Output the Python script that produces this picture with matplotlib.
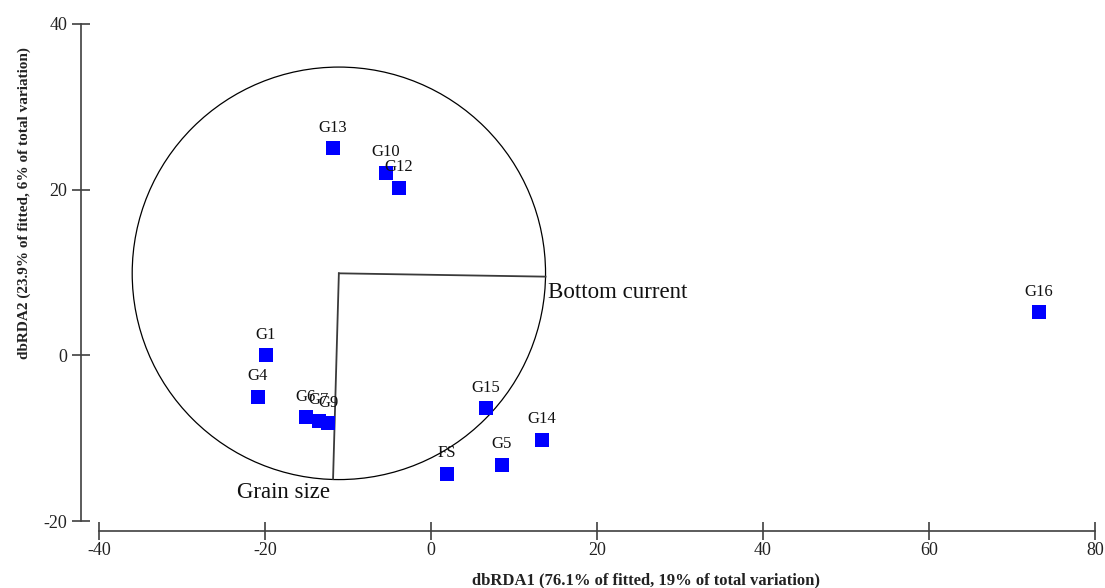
import matplotlib
matplotlib.use("Agg")
import matplotlib.pyplot as plt
from matplotlib.patches import Circle

# ---- data ----
sites = ["G1", "G4", "G6", "G7", "G9", "G10", "G12", "G13",
         "G15", "G14", "G5", "FS", "G16"]
dbrda1 = [-19.9, -20.9, -15.1, -13.5, -12.4, -5.4, -3.9, -11.8,
          6.6, 13.4, 8.5, 1.9, 73.2]
dbrda2 = [0.0, -5.0, -7.5, -7.9, -8.2, 22.0, 20.2, 25.0,
          -6.4, -10.2, -13.2, -14.3, 5.2]

vec_names = ["Bottom current", "Grain size"]
vec_x = [24.9, -0.7]
vec_y = [-0.4, -24.8]
origin = (-11.1, 9.9)
circle_radius = 24.9

xticks = [-40, -20, 0, 20, 40, 60, 80]
yticks = [-20, 0, 20, 40]
xlabel = "dbRDA1 (76.1% of fitted, 19% of total variation)"
ylabel = "dbRDA2 (23.9% of fitted, 6% of total variation)"

# ---- figure ----
W, H = 1105, 588
fig = plt.figure(figsize=(W / 100, H / 100), dpi=100)
ax = fig.add_axes([99 / W, 1 - 521 / H, (1095 - 99) / W, (521 - 24) / H])
ax.set_xlim(-40, 80)
ax.set_ylim(-20, 40)

serif = ["Liberation Serif", "DejaVu Serif"]
spine_col = "#404040"

# circle and vectors
ax.add_patch(Circle(origin, circle_radius, fill=False, ec="black", lw=0.9,
                    clip_on=False))
for name, dx, dy in zip(vec_names, vec_x, vec_y):
    ax.plot([origin[0], origin[0] + dx], [origin[1], origin[1] + dy],
            color="#3a3a3a", lw=1.3, clip_on=False)

ax.annotate(vec_names[0], (origin[0] + vec_x[0], origin[1] + vec_y[0]),
            xytext=(1.5, -15.5), textcoords="offset points",
            ha="left", va="baseline", fontsize=16.5, family=serif,
            color="#111111")
ax.annotate(vec_names[1], (origin[0] + vec_x[1], origin[1] + vec_y[1]),
            xytext=(-2, -14), textcoords="offset points",
            ha="right", va="baseline", fontsize=16.5, family=serif,
            color="#111111")

# points
ax.plot(dbrda1, dbrda2, linestyle="none", marker="s", markersize=10.5,
        color="#0000ff", markeredgewidth=0, clip_on=False, zorder=3)
for s, x, y in zip(sites, dbrda1, dbrda2):
    ax.annotate(s, (x, y), xytext=(0, 12), textcoords="offset points",
                ha="center", va="baseline", fontsize=12, family=serif,
                color="#111111", zorder=4)

# axes styling
for side in ["top", "right"]:
    ax.spines[side].set_visible(False)
ax.spines["left"].set_position(("outward", 13))
ax.spines["bottom"].set_position(("outward", 7.2))
ax.spines["left"].set_bounds(-20, 40)
ax.spines["bottom"].set_bounds(-40, 80)
for side in ["left", "bottom"]:
    ax.spines[side].set_color(spine_col)
    ax.spines[side].set_linewidth(1.2)

ax.set_xticks(xticks)
ax.set_yticks(yticks)
ax.set_xticklabels([str(v) for v in xticks])
ax.set_yticklabels([str(v) for v in yticks])
ax.tick_params(axis="x", direction="inout", length=12.5, width=1.2,
               color=spine_col, pad=1.5, labelsize=13, labelcolor="#222222")
ax.tick_params(axis="y", direction="inout", length=13.5, width=1.2,
               color=spine_col, pad=3, labelsize=13, labelcolor="#222222")
for lab in ax.get_xticklabels() + ax.get_yticklabels():
    lab.set_family(serif)

ax.patch.set_visible(False)

fig.text(645.5 / W, 1 - 584 / H, xlabel, ha="center", va="baseline",
         fontsize=12, fontweight="bold", family=serif, color="#222222")
fig.text(24 / W, 1 - 203.5 / H, ylabel, ha="center", va="center",
         rotation=90, fontsize=11, fontweight="bold", family=serif,
         color="#222222")

fig.savefig("out.png", dpi=100)
